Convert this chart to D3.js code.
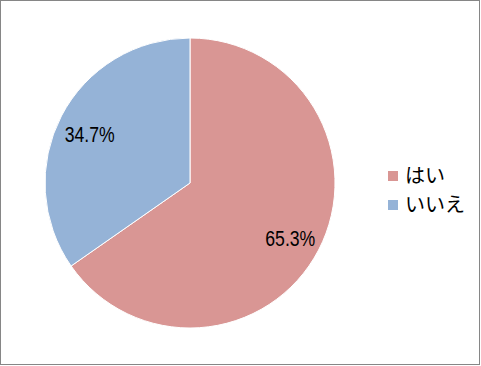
<!DOCTYPE html>
<html>
<head>
<meta charset="utf-8">
<script src="https://cdn.jsdelivr.net/npm/d3@7"></script>
<style>
  body { margin: 0; background: #fff; }
</style>
</head>
<body>
<div id="chart"></div>
<script>
// data
var categories = ["はい", "いいえ"];
var values = [65.3, 34.7];
var colors = ["#D99694", "#95B3D7"];

var width = 481, height = 366;
var cx = 190, cy = 183, radius = 145;

var svg = d3.select("#chart").append("svg")
    .attr("width", width)
    .attr("height", height);

// outer frame
svg.append("rect")
    .attr("x", 0.5).attr("y", 0.5)
    .attr("width", 479).attr("height", 364)
    .style("fill", "#fff")
    .style("stroke", "#868686");

var pie = d3.pie().sort(null).value(function(d) { return d; });
var arc = d3.arc().innerRadius(0).outerRadius(radius);
var labelArc = d3.arc().innerRadius(radius * 0.78).outerRadius(radius * 0.78);

var g = svg.append("g").attr("transform", "translate(" + cx + "," + cy + ")");

var slices = g.selectAll("g.slice")
    .data(pie(values))
    .enter().append("g").attr("class", "slice");

slices.append("path")
    .attr("d", arc)
    .style("fill", function(d, i) { return colors[i]; })
    .style("stroke", "#fff")
    .style("stroke-width", 1);

// excel-ish narrow digits: squeeze the label to the width seen
slices.append("text")
    .attr("transform", function(d) {
        var c = labelArc.centroid(d);
        return "translate(" + c[0] + "," + (c[1] + 3) + ")";
    })
    .attr("text-anchor", "middle")
    .attr("dy", "0.36em")
    .attr("textLength", 50)
    .attr("lengthAdjust", "spacingAndGlyphs")
    .style("font-family", "'Liberation Sans', Arial, sans-serif")
    .style("font-size", "22px")
    .style("fill", "#000")
    .text(function(d) { return d.value.toFixed(1) + "%"; });

// legend
var legend = svg.append("g").attr("transform", "translate(388,171)");
var items = legend.selectAll("g")
    .data(categories)
    .enter().append("g")
    .attr("transform", function(d, i) { return "translate(0," + (i * 29) + ")"; });

items.append("rect")
    .attr("width", 10).attr("height", 10)
    .style("fill", function(d, i) { return colors[i]; });

items.append("text")
    .attr("x", 17).attr("y", 5)
    .attr("dy", "0.36em")
    .style("font-family", "'Noto Sans CJK JP', sans-serif")
    .style("font-size", "20px")
    .style("fill", "#000")
    .text(function(d) { return d; });
</script>
</body>
</html>
